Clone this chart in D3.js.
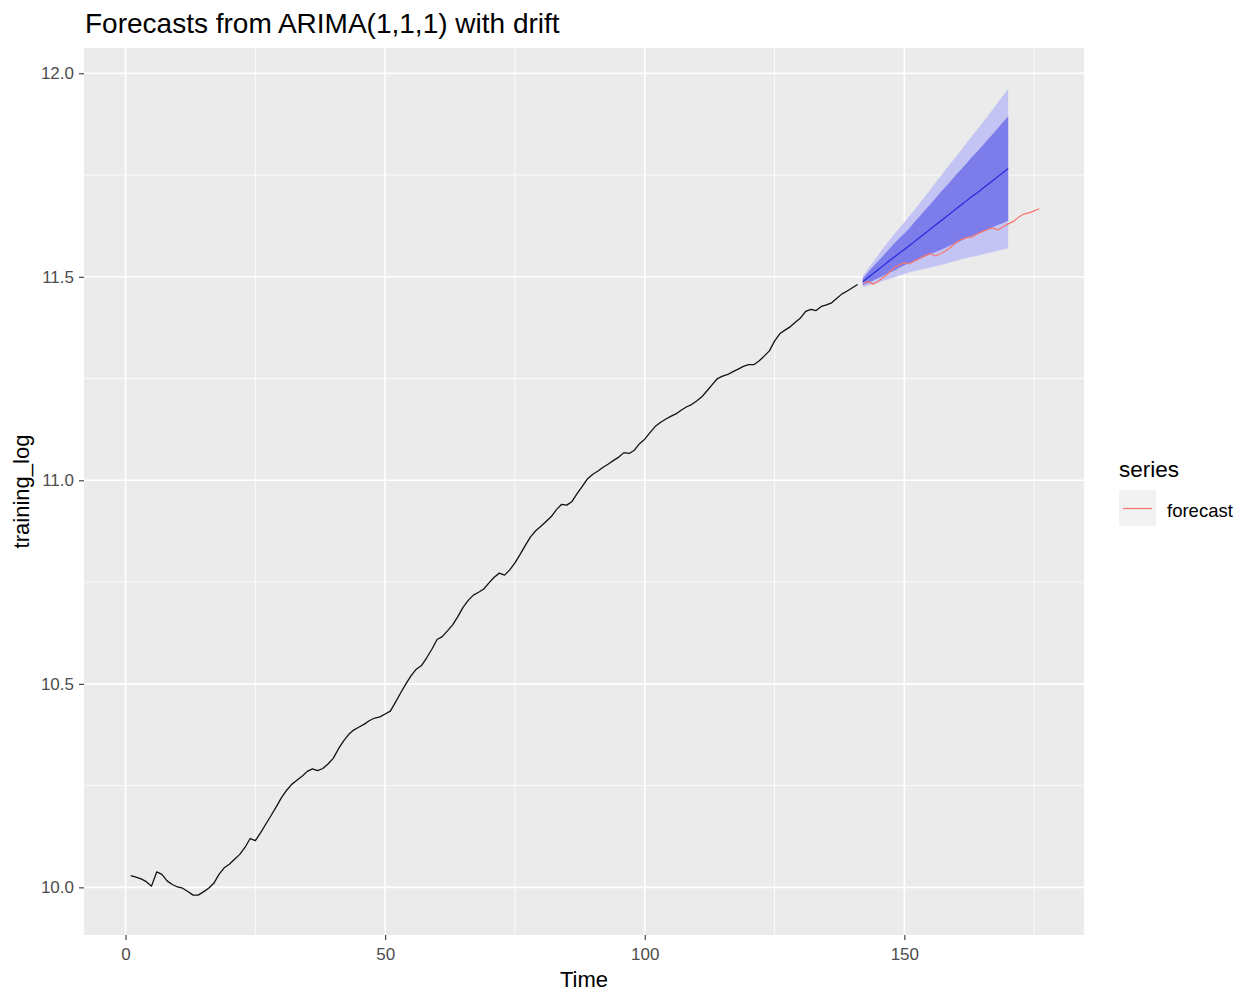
<!DOCTYPE html>
<html>
<head>
<meta charset="utf-8">
<script src="https://cdn.jsdelivr.net/npm/d3@7"></script>
<style>
  html, body { margin: 0; padding: 0; background: #ffffff; }
  svg { display: block; font-family: "Liberation Sans", Arial, sans-serif; }
</style>
</head>
<body>
<svg id="chart" width="1247" height="996"></svg>
<script>
// Training series (log scale), t = 1..141
const trainStart = 1;
const trainValues = [
  10.029, 10.025, 10.021, 10.014, 10.003, 10.038, 10.032, 10.016, 10.007, 10.001,
  9.998, 9.990, 9.981, 9.981, 9.989, 9.998, 10.010, 10.032, 10.048, 10.057,
  10.069, 10.081, 10.098, 10.120, 10.115, 10.134, 10.155, 10.176, 10.197, 10.220,
  10.238, 10.253, 10.263, 10.273, 10.285, 10.291, 10.287, 10.292, 10.303, 10.317,
  10.340, 10.360, 10.376, 10.387, 10.394, 10.401, 10.410, 10.416, 10.419, 10.426,
  10.433, 10.455, 10.478, 10.500, 10.520, 10.536, 10.545, 10.564, 10.585, 10.609,
  10.616, 10.630, 10.645, 10.665, 10.688, 10.705, 10.718, 10.725, 10.733, 10.748,
  10.762, 10.772, 10.767, 10.780, 10.797, 10.818, 10.840, 10.861, 10.876, 10.887,
  10.899, 10.911, 10.928, 10.941, 10.939, 10.948, 10.968, 10.986, 11.004, 11.015,
  11.023, 11.032, 11.040, 11.049, 11.057, 11.068, 11.066, 11.074, 11.090, 11.101,
  11.117, 11.132, 11.142, 11.150, 11.157, 11.163, 11.172, 11.180, 11.186, 11.195,
  11.205, 11.220, 11.235, 11.250, 11.256, 11.260, 11.267, 11.273, 11.280, 11.284,
  11.284, 11.293, 11.305, 11.318, 11.342, 11.360, 11.369, 11.377, 11.388, 11.399,
  11.415, 11.420, 11.417, 11.427, 11.431, 11.436, 11.447, 11.458, 11.465, 11.473,
  11.481
];

// Forecast horizon, t = 142..170
const fcStart = 142;
const fcMean = [
  11.488, 11.498, 11.508, 11.518, 11.528, 11.538, 11.548, 11.558, 11.567, 11.577,
  11.587, 11.597, 11.607, 11.617, 11.627, 11.637, 11.647, 11.657, 11.667, 11.677,
  11.687, 11.697, 11.706, 11.716, 11.726, 11.736, 11.746, 11.756, 11.766
];
const fcLo80 = [
  11.480, 11.485, 11.491, 11.497, 11.503, 11.509, 11.515, 11.522, 11.528, 11.534,
  11.539, 11.545, 11.550, 11.556, 11.561, 11.566, 11.572, 11.578, 11.583, 11.589,
  11.595, 11.600, 11.605, 11.611, 11.616, 11.622, 11.627, 11.632, 11.638
];
const fcHi80 = [
  11.496, 11.511, 11.525, 11.539, 11.553, 11.567, 11.581, 11.594, 11.606, 11.620,
  11.635, 11.649, 11.664, 11.678, 11.693, 11.708, 11.722, 11.736, 11.751, 11.765,
  11.779, 11.794, 11.807, 11.821, 11.836, 11.850, 11.865, 11.880, 11.894
];
const fcLo95 = [
  11.475, 11.478, 11.482, 11.486, 11.490, 11.494, 11.498, 11.503, 11.507, 11.511,
  11.514, 11.517, 11.520, 11.523, 11.526, 11.529, 11.532, 11.536, 11.539, 11.543,
  11.546, 11.549, 11.551, 11.555, 11.558, 11.561, 11.564, 11.567, 11.570
];
const fcHi95 = [
  11.501, 11.520, 11.537, 11.554, 11.571, 11.588, 11.604, 11.619, 11.634, 11.649,
  11.665, 11.681, 11.698, 11.714, 11.731, 11.747, 11.764, 11.780, 11.796, 11.812,
  11.829, 11.845, 11.861, 11.877, 11.894, 11.911, 11.928, 11.945, 11.962
];

// Held-out series drawn in red ("forecast" in the legend), t = 142..176
const testStart = 142;
const testValues = [
  11.485, 11.488, 11.482, 11.489, 11.499, 11.510, 11.522, 11.529, 11.534, 11.532,
  11.539, 11.545, 11.552, 11.557, 11.551, 11.557, 11.564, 11.573, 11.585, 11.592,
  11.596, 11.598, 11.605, 11.611, 11.616, 11.620, 11.615, 11.623, 11.630, 11.636,
  11.646, 11.654, 11.657, 11.662, 11.667
];

const xTicks = [0, 50, 100, 150];
const xMinor = [25, 75, 125, 175];
const yTicks = [10.0, 10.5, 11.0, 11.5, 12.0];
const yMinor = [10.25, 10.75, 11.25, 11.75];

const titleText = "Forecasts from ARIMA(1,1,1) with drift";
const xTitle = "Time";
const yTitle = "training_log";
const legendTitle = "series";
const legendLabel = "forecast";

// ---- layout ----
const panel = { left: 84, right: 1084, top: 48, bottom: 935 };
const svg = d3.select("#chart");

const x = d3.scaleLinear().domain([-8.0, 184.6]).range([panel.left, panel.right]);
const y = d3.scaleLinear().domain([9.883, 12.062]).range([panel.bottom, panel.top]);

const train = trainValues.map((v, i) => ({ t: trainStart + i, v }));
const test = testValues.map((v, i) => ({ t: testStart + i, v }));
const fc = fcMean.map((m, i) => ({
  t: fcStart + i, m, lo80: fcLo80[i], hi80: fcHi80[i], lo95: fcLo95[i], hi95: fcHi95[i]
}));

// panel background
svg.append("rect")
  .attr("x", panel.left).attr("y", panel.top)
  .attr("width", panel.right - panel.left).attr("height", panel.bottom - panel.top)
  .attr("fill", "#EBEBEB");

const grid = svg.append("g");
grid.selectAll(".xmin").data(xMinor).join("line")
  .attr("x1", d => x(d)).attr("x2", d => x(d))
  .attr("y1", panel.top).attr("y2", panel.bottom)
  .attr("stroke", "#ffffff").attr("stroke-width", 0.8);
grid.selectAll(".ymin").data(yMinor).join("line")
  .attr("y1", d => y(d)).attr("y2", d => y(d))
  .attr("x1", panel.left).attr("x2", panel.right)
  .attr("stroke", "#ffffff").attr("stroke-width", 0.8);
grid.selectAll(".xmaj").data(xTicks).join("line")
  .attr("x1", d => x(d)).attr("x2", d => x(d))
  .attr("y1", panel.top).attr("y2", panel.bottom)
  .attr("stroke", "#ffffff").attr("stroke-width", 1.6);
grid.selectAll(".ymaj").data(yTicks).join("line")
  .attr("y1", d => y(d)).attr("y2", d => y(d))
  .attr("x1", panel.left).attr("x2", panel.right)
  .attr("stroke", "#ffffff").attr("stroke-width", 1.6);

// prediction intervals
const area = (lo, hi) => d3.area().x(d => x(d.t)).y0(d => y(d[lo])).y1(d => y(d[hi]));
svg.append("path").datum(fc).attr("d", area("lo95", "hi95")).attr("fill", "#C3C3F4");
svg.append("path").datum(fc).attr("d", area("lo80", "hi80")).attr("fill", "#7C7CEB");

const line = d3.line().x(d => x(d.t)).y(d => y(d.v));

// training series
svg.append("path").datum(train).attr("d", line)
  .attr("fill", "none").attr("stroke", "#111111").attr("stroke-width", 1.3)
  .attr("stroke-linejoin", "round");

// point forecast
svg.append("path").datum(fc).attr("d", d3.line().x(d => x(d.t)).y(d => y(d.m)))
  .attr("fill", "none").attr("stroke", "#2727DC").attr("stroke-width", 1.2);

// red series
svg.append("path").datum(test).attr("d", line)
  .attr("fill", "none").attr("stroke", "#F8766D").attr("stroke-width", 1.2)
  .attr("stroke-linejoin", "round");

// axes
const tickColor = "#333333";
const labelColor = "#4D4D4D";
const xAxis = svg.append("g").attr("transform", `translate(0,${panel.bottom})`)
  .call(d3.axisBottom(x).tickValues(xTicks).tickFormat(d3.format("d")).tickSize(5).tickPadding(8));
const yAxis = svg.append("g").attr("transform", `translate(${panel.left},0)`)
  .call(d3.axisLeft(y).tickValues(yTicks).tickFormat(d3.format(".1f")).tickSize(5).tickPadding(5));
[xAxis, yAxis].forEach(g => {
  g.select(".domain").remove();
  g.selectAll(".tick line").attr("stroke", tickColor).attr("stroke-width", 1.1);
  g.selectAll(".tick text").attr("fill", labelColor)
    .attr("font-size", "17px").attr("font-family", "Liberation Sans, Arial, sans-serif");
});

// titles
svg.append("text").attr("x", 85).attr("y", 33)
  .attr("font-size", "28px").attr("fill", "#000").text(titleText);
svg.append("text").attr("x", (panel.left + panel.right) / 2).attr("y", 987)
  .attr("text-anchor", "middle").attr("font-size", "22px").attr("fill", "#000").text(xTitle);
svg.append("text")
  .attr("transform", `translate(29,${(panel.top + panel.bottom) / 2}) rotate(-90)`)
  .attr("text-anchor", "middle").attr("font-size", "22px").attr("fill", "#000").text(yTitle);

// legend
const lg = svg.append("g");
lg.append("text").attr("x", 1119).attr("y", 477).attr("font-size", "22.5px").attr("fill", "#000").text(legendTitle);
lg.append("rect").attr("x", 1119).attr("y", 490).attr("width", 37).attr("height", 36).attr("fill", "#F2F2F2");
lg.append("line").attr("x1", 1123).attr("x2", 1152).attr("y1", 508.5).attr("y2", 508.5)
  .attr("stroke", "#F8766D").attr("stroke-width", 1.2);
lg.append("text").attr("x", 1167).attr("y", 517).attr("font-size", "18.5px").attr("fill", "#000").text(legendLabel);
</script>
</body>
</html>
